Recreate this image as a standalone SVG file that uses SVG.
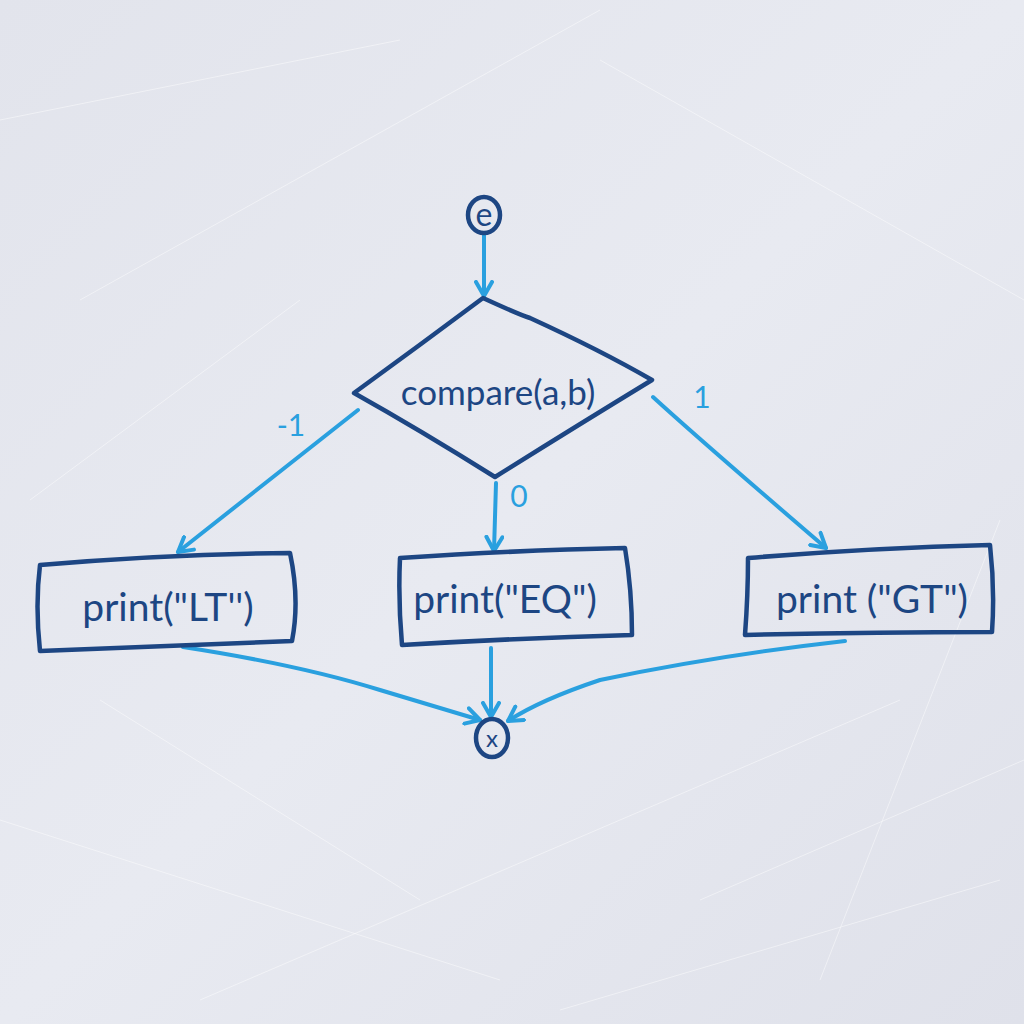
<svg xmlns="http://www.w3.org/2000/svg" width="1024" height="1024" viewBox="0 0 1024 1024">
<defs>
<style>
.nd{fill:none;stroke:#1d4683;stroke-width:4.5;stroke-linecap:round;stroke-linejoin:round}
.tx{font-family:Lato,"Open Sans",sans-serif;fill:#1d4683;font-size:39px;text-anchor:middle}
.ed{fill:none;stroke:#2aa0df;stroke-width:4;stroke-linecap:round}
.lb{font-family:Lato,"Open Sans",sans-serif;fill:#2aa0df;font-size:30px;text-anchor:middle}
.sc{stroke:#ffffff;stroke-width:1;opacity:0.45;fill:none}
</style>
<marker id="ah" viewBox="-16 -10 20 20" markerWidth="20" markerHeight="20" refX="0" refY="0" orient="auto" markerUnits="userSpaceOnUse">
<path d="M-14,-8 L0,0 L-14,8" fill="none" stroke="#2aa0df" stroke-width="4" stroke-linecap="round" stroke-linejoin="round"/>
</marker>
<linearGradient id="bg" x1="0" y1="0" x2="1" y2="1">
<stop offset="0" stop-color="#e2e4ec"/>
<stop offset="0.5" stop-color="#e8eaf1"/>
<stop offset="1" stop-color="#dfe1ea"/>
</linearGradient>
</defs>
<rect width="1024" height="1024" fill="url(#bg)"/>
<g id="scratches">
<path class="sc" d="M0,120 L400,40 M80,300 L600,10 M200,1000 L900,700 M0,820 L500,980 M600,60 L1024,300 M700,900 L1024,760 M30,500 L300,300 M820,980 L1000,520 M100,700 L420,900 M560,1010 L1000,880"/>
</g>
<g id="connectors">
<path class="ed" d="M484,234 L484,296" marker-end="url(#ah)"/>
<path class="ed" d="M358,410 L178,552" marker-end="url(#ah)"/>
<path class="ed" d="M496,483 L494,551" marker-end="url(#ah)"/>
<path class="ed" d="M653,397 Q700,440 826,548" marker-end="url(#ah)"/>
<path class="ed" d="M183,647 Q300,665 380,690 Q440,708 480,720" marker-end="url(#ah)"/>
<path class="ed" d="M491,648 L491,717" marker-end="url(#ah)"/>
<path class="ed" d="M845,641 Q720,655 600,680 Q540,700 508,721" marker-end="url(#ah)"/>
<text class="lb" x="291" y="436">-1</text>
<text class="lb" x="519" y="507">0</text>
<text class="lb" x="702" y="408">1</text>
</g>
<g id="start">
<ellipse class="nd" cx="484" cy="215" rx="16" ry="18"/>
<text class="tx" x="484" y="226" style="font-size:32px">e</text>
</g>
<g id="compare">
<path class="nd" d="M483,298 Q520,315 530,318 Q600,350 652,380 Q570,430 495,477 Q420,430 354,393 Q420,345 483,298 Z"/>
<text class="tx" x="498" y="405" style="font-size:35px">compare(a,b)</text>
</g>
<g id="lt">
<path class="nd" d="M40,565 Q170,554 290,553 Q300,600 292,641 Q160,646 40,651 Q35,605 40,565 Z"/>
<text class="tx" x="168" y="621">print("LT'')</text>
</g>
<g id="eq">
<path class="nd" d="M400,558 Q520,550 625,548 Q632,590 632,635 Q520,638 402,645 Q398,600 400,558 Z"/>
<text class="tx" x="505" y="613">print("EQ")</text>
</g>
<g id="gt">
<path class="nd" d="M748,558 Q870,548 990,545 Q995,590 992,632 Q870,632 745,635 Q748,595 748,558 Z"/>
<text class="tx" x="872" y="613">print ("GT")</text>
</g>
<g id="end">
<ellipse class="nd" cx="492" cy="738" rx="16" ry="19"/>
<text class="tx" x="492" y="747" style="font-size:24px">x</text>
</g>
</svg>
